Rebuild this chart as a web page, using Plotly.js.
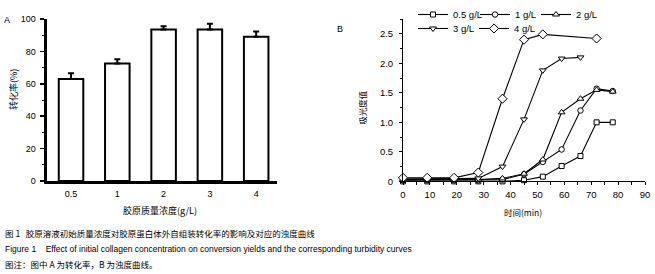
<!DOCTYPE html>
<html>
<head>
<meta charset="utf-8">
<script src="https://cdn.plot.ly/plotly-3.0.1.min.js"></script>
<style>html,body{margin:0;padding:0;background:#fff}#chart{width:655px;height:274px}</style>
</head>
<body>
<div id="chart"></div>
<script>
// Panel A: conversion yield
const concCategories = ['0.5', '1', '2', '3', '4'];
const conversionRate = [63, 72.5, 93.5, 93.5, 89];
const conversionErr = [3.5, 2.7, 2, 3.5, 3.3];

// Panel B: turbidity curves
const time05 = [0, 9, 19, 28, 37, 45, 52, 59, 66, 72, 78];
const abs05 = [0.0, 0.0, 0.0, 0.0, 0.0, 0.02, 0.08, 0.26, 0.43, 1.0, 1.0];
const time1 = [0, 9, 19, 28, 37, 45, 52, 59, 66, 72, 78];
const abs1 = [0.02, 0.02, 0.02, 0.02, 0.03, 0.12, 0.33, 0.54, 1.2, 1.57, 1.53];
const time2 = [0, 9, 19, 28, 37, 45, 52, 59, 66, 72, 78];
const abs2 = [0.03, 0.03, 0.03, 0.03, 0.05, 0.13, 0.37, 1.17, 1.4, 1.55, 1.52];
const time3 = [0, 9, 19, 28, 37, 45, 52, 59, 66];
const abs3 = [0.04, 0.04, 0.04, 0.05, 0.25, 1.05, 1.88, 2.08, 2.1];
const time4 = [0, 9, 19, 28, 37, 45, 52, 72];
const abs4 = [0.06, 0.06, 0.06, 0.15, 1.4, 2.4, 2.49, 2.42];

const yTickValsB = [0, 0.5, 1.0, 1.5, 2.0, 2.5];
const yTickTextB = ['0', '0.5', '1.0', '1.5', '2.0', '2.5'];

const FONT = 'Liberation Sans, Arial, sans-serif';
const CJK = 'Noto Sans CJK SC, sans-serif';

function lineTrace(x, y, name, symbol, size, legend) {
  return {
    type: 'scatter', mode: 'lines+markers', x: x, y: y, name: name,
    xaxis: 'x2', yaxis: 'y2', cliponaxis: false, legend: legend,
    line: {color: '#000', width: 1.1},
    marker: {symbol: symbol, size: size, color: '#fff', line: {color: '#000', width: 1}}
  };
}

const traces = [
  {
    type: 'bar', x: concCategories, y: conversionRate, xaxis: 'x', yaxis: 'y',
    showlegend: false,
    marker: {color: '#fff', line: {color: '#000', width: 2}},
    error_y: {type: 'data', array: conversionErr, arrayminus: conversionErr.map(() => 0),
              symmetric: false, color: '#000', thickness: 2, width: 3}
  },
  lineTrace(time05, abs05, '0.5 g/L', 'square', 5, 'legend'),
  lineTrace(time1, abs1, '1 g/L', 'circle', 5.5, 'legend2'),
  lineTrace(time2, abs2, '2 g/L', 'triangle-up', 6, 'legend3'),
  lineTrace(time3, abs3, '3 g/L', 'triangle-down', 6, 'legend4'),
  lineTrace(time4, abs4, '4 g/L', 'diamond', 7, 'legend5')
];

function px(x) { return x / 655; }
function py(y) { return 1 - y / 274; }

function legendAt(xp, yp) {
  return {
    x: px(xp), y: py(yp), xanchor: 'left', yanchor: 'middle', orientation: 'v',
    bgcolor: 'rgba(0,0,0,0)', borderwidth: 0,
    font: {family: FONT, size: 9.5, color: '#000'}, itemwidth: 30
  };
}

const layout = {
  width: 655, height: 274,
  margin: {l: 0, r: 0, t: 0, b: 0},
  paper_bgcolor: '#fff', plot_bgcolor: '#fff',
  font: {family: FONT, size: 9, color: '#000'},
  bargap: 0.47,
  xaxis: {
    type: 'category',
    domain: [px(46.5), px(277)], range: [-0.53, 4.45], anchor: 'y',
    showline: true, linecolor: '#000', linewidth: 3, ticks: '', showgrid: false, zeroline: false,
    tickfont: {family: FONT, size: 9}, ticklabelstandoff: 2
  },
  yaxis: {
    domain: [py(179), py(13.3)], range: [0, 100], anchor: 'x',
    showline: true, linecolor: '#000', linewidth: 3, showgrid: false, zeroline: false,
    ticks: 'outside', ticklen: 4, tickwidth: 1.5, tickcolor: '#000', tickvals: [0, 20, 40, 60, 80, 100],
    minor: {ticks: 'outside', ticklen: 2, tickwidth: 1, tickcolor: '#000', dtick: 10, showgrid: false},
    tickfont: {family: FONT, size: 9}, ticklabelstandoff: 2
  },
  xaxis2: {
    domain: [px(403), px(645)], range: [0, 90], anchor: 'y2',
    showline: true, linecolor: '#000', linewidth: 1, showgrid: false, zeroline: false,
    ticks: 'outside', ticklen: 3, tickwidth: 1, tickcolor: '#000', dtick: 10, tick0: 0,
    minor: {ticks: 'outside', ticklen: 3, tickwidth: 1, tickcolor: '#000', dtick: 5, showgrid: false},
    tickfont: {family: FONT, size: 9.5}, ticklabelstandoff: 1
  },
  yaxis2: {
    domain: [py(179.3), py(13.3)], range: [0, 2.75], anchor: 'x2',
    showline: true, linecolor: '#000', linewidth: 1, showgrid: false, zeroline: false,
    ticks: 'outside', ticklen: 3, tickwidth: 1, tickcolor: '#000',
    tickvals: yTickValsB, ticktext: yTickTextB,
    minor: {ticks: 'outside', ticklen: 2, tickwidth: 1, tickcolor: '#000', dtick: 0.25, showgrid: false},
    tickfont: {family: FONT, size: 9.5}, ticklabelstandoff: 4
  },
  legend: legendAt(413, 8.5),
  legend2: legendAt(475, 8.5),
  legend3: legendAt(536, 8.5),
  legend4: legendAt(413, 23),
  legend5: legendAt(474, 23),
  annotations: [
    {text: 'A', x: px(7), y: py(14), xref: 'paper', yref: 'paper', showarrow: false, xanchor: 'center', yanchor: 'middle', font: {family: FONT, size: 9}},
    {text: 'B', x: px(340), y: py(24), xref: 'paper', yref: 'paper', showarrow: false, xanchor: 'center', yanchor: 'middle', font: {family: FONT, size: 9}},
    {text: '转化率(%)', x: px(13), y: py(86), xref: 'paper', yref: 'paper', showarrow: false, textangle: -90, xanchor: 'center', yanchor: 'middle', font: {family: CJK, size: 9}},
    {text: '胶原质量浓度(g/L)', x: px(160), y: py(209), xref: 'paper', yref: 'paper', showarrow: false, xanchor: 'center', yanchor: 'middle', font: {family: CJK, size: 9}},
    {text: '吸光度值', x: px(362), y: py(104), xref: 'paper', yref: 'paper', showarrow: false, textangle: -90, xanchor: 'center', yanchor: 'middle', font: {family: CJK, size: 8.5}},
    {text: '时间(min)', x: px(523), y: py(211), xref: 'paper', yref: 'paper', showarrow: false, xanchor: 'center', yanchor: 'middle', font: {family: CJK, size: 8.5}},
    {text: '图 1   胶原溶液初始质量浓度对胶原蛋白体外自组装转化率的影响及对应的浊度曲线', x: px(3), y: py(232), xref: 'paper', yref: 'paper', showarrow: false, xanchor: 'left', yanchor: 'middle', font: {family: CJK, size: 8.5}},
    {text: 'Figure 1    Effect of initial collagen concentration on conversion yields and the corresponding turbidity curves', x: px(3), y: py(248.5), xref: 'paper', yref: 'paper', showarrow: false, xanchor: 'left', yanchor: 'middle', font: {family: FONT, size: 8.5}},
    {text: '图注：图中 A 为转化率，B 为浊度曲线。', x: px(3), y: py(264), xref: 'paper', yref: 'paper', showarrow: false, xanchor: 'left', yanchor: 'middle', font: {family: CJK, size: 8.5}}
  ]
};

Plotly.newPlot('chart', traces, layout, {displayModeBar: false, staticPlot: true});
</script>
</body>
</html>
